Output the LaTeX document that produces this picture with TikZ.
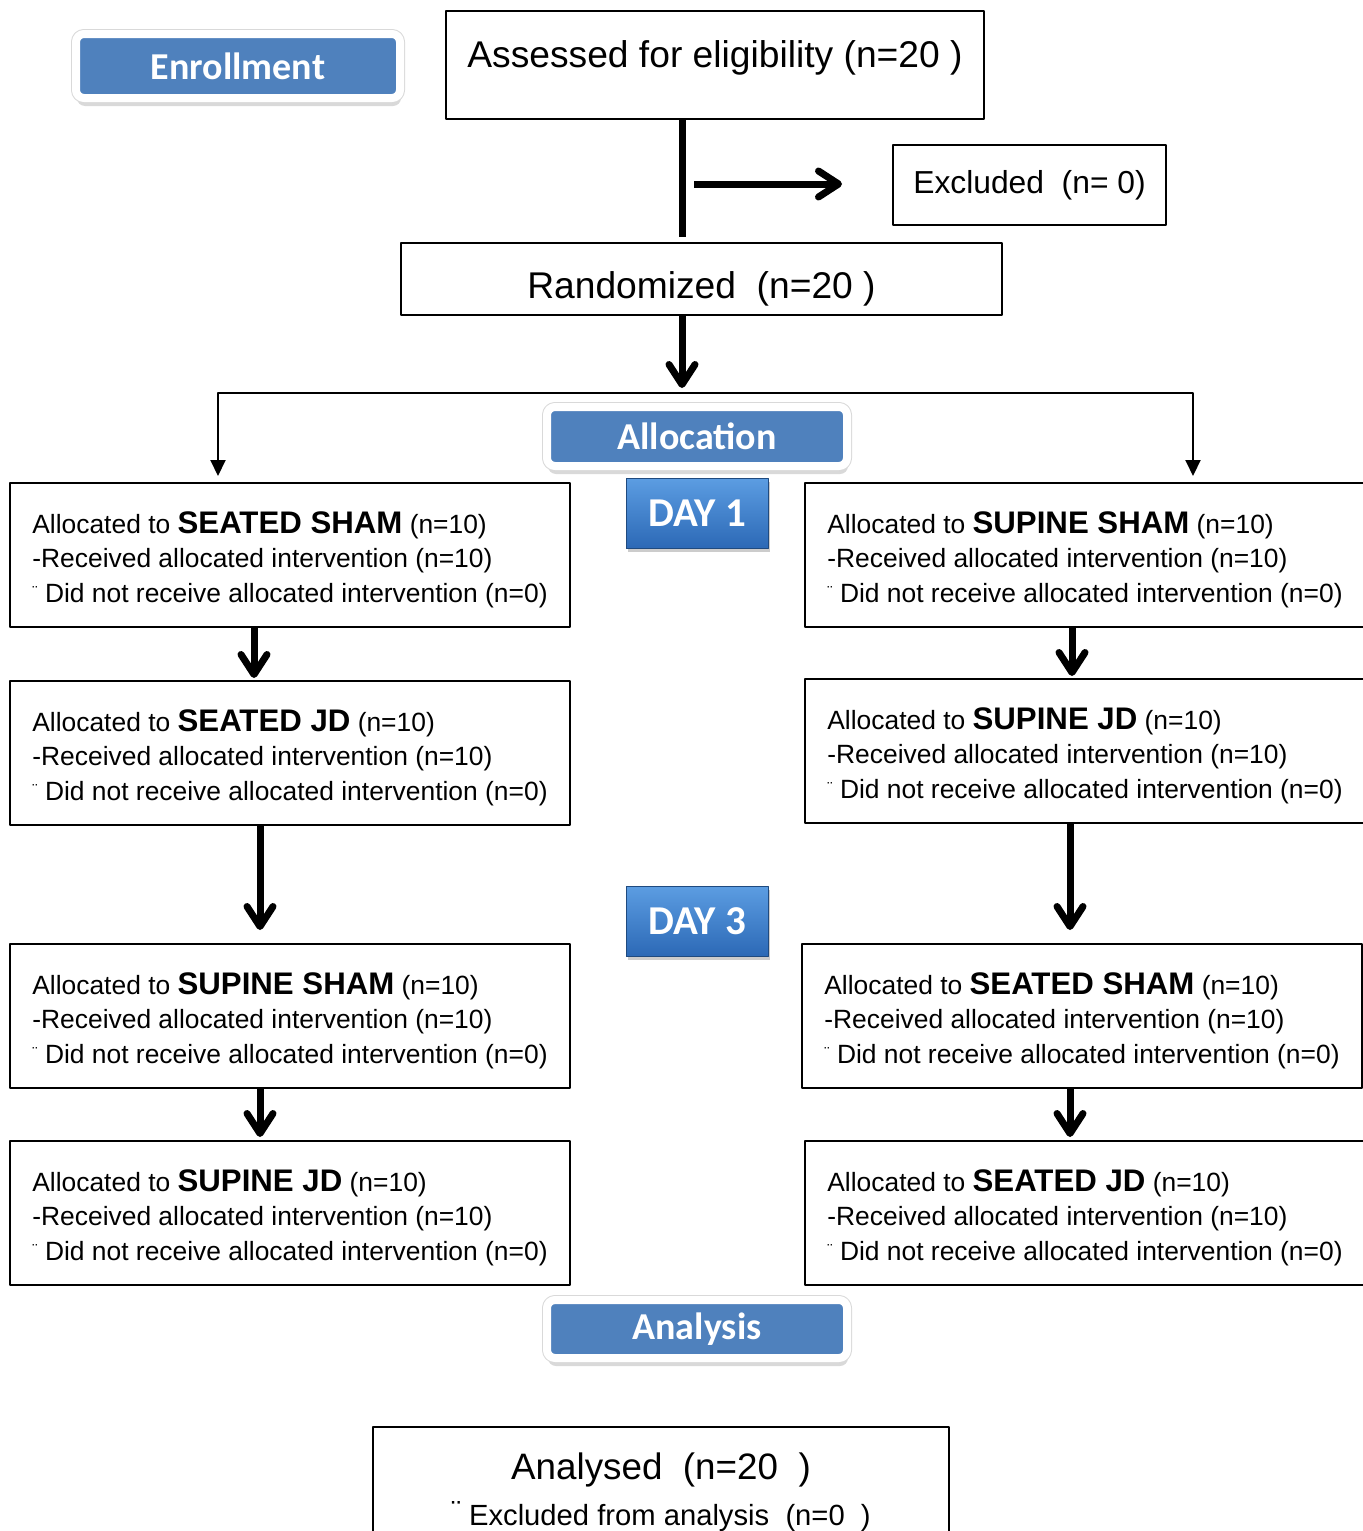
\documentclass[tikz,border=0pt]{standalone}
\usepackage{fontspec}
\setmainfont{Liberation Sans}
\newfontfamily\calibri{Carlito}
\usetikzlibrary{arrows.meta,shadows}
\definecolor{stageblue}{HTML}{4F81BD}
\definecolor{daytop}{HTML}{5C9DE2}
\definecolor{daybottom}{HTML}{2C69B6}
\newcommand{\armdots}{\raisebox{2.5pt}{\fontsize{8}{8}\selectfont ¨}}
\newcommand{\arm}[1]{Allocated to {\fontsize{15.6}{17.2}\selectfont\bfseries #1} (n=10)\\
-Received allocated intervention (n=10)\\
\armdots\ Did not receive allocated intervention (n=0)}
\begin{document}
\begin{tikzpicture}[x=0.5pt,y=-0.5pt,line join=round]
  \tikzstyle{box}=[draw,line width=1pt,minimum width=280pt,minimum height=72pt,text height=50pt,align=left,font=\fontsize{13.2}{17.2}\selectfont]
  \tikzstyle{stage}=[drop shadow={opacity=0.3,shadow xshift=0.5pt,shadow yshift=-4pt},preaction={draw=black!15,line width=5pt},draw=white,line width=4pt,fill=stageblue,rounded corners=4pt,minimum width=162pt,minimum height=32pt,text=white,font=\calibri\bfseries\fontsize{19}{19}\selectfont]
  \tikzstyle{day}=[top color=daytop,bottom color=daybottom,draw=daybottom!70!black,line width=0.5pt,minimum width=71pt,minimum height=35pt,text=white,font=\calibri\bfseries\fontsize{20.5}{20.5}\selectfont,drop shadow={opacity=0.4,shadow xshift=1pt,shadow yshift=-2pt}]
  \tikzstyle{bigarrow}=[line width=3.5pt,-{Straight Barb[length=10pt,width=13pt,round]}]
  \tikzstyle{thinarrow}=[line width=1pt,{Triangle[length=8pt,width=7.5pt]}-{Triangle[length=8pt,width=7.5pt]}]
  \useasboundingbox (0,0) rectangle (1363,1531);
  \clip (0,0) rectangle (1363,1531);

  % enrollment
  \node[stage] (enrol) at (238,66) {Enrollment};
  \node[draw,line width=1pt,minimum width=269pt,minimum height=54pt,text depth=11pt,font=\fontsize{18.6}{20}\selectfont] (assess) at (715,65) {Assessed for eligibility (n=20 )};
  \node[draw,line width=1pt,minimum width=136.5pt,minimum height=40pt,font=\fontsize{15.9}{18}\selectfont] (excl) at (1029.5,185) {Excluded\ \ (n= 0)};
  \node[draw,line width=1pt,minimum width=300.5pt,minimum height=36pt,text height=23pt,font=\fontsize{18.6}{20}\selectfont] (rand) at (701.5,279) {Randomized\ \ (n=20 )};
  \coordinate (split) at (682,184);
  \coordinate (hl) at (682,393);
  \draw[line width=3.5pt] (split |- assess.south) -- ([yshift=2.5pt]split |- rand.north);
  \draw[bigarrow,shorten >=25pt] ([xshift=6pt]split) -- (split -| excl.west);
  \draw[bigarrow] (split |- rand.south) -- ([yshift=2.5pt]hl);

  % allocation
  \node[stage,minimum width=150pt,minimum height=29.5pt] (alloc) at (697,436.5) {Allocation};
  \node[day] (day1) at (697,513) {DAY 1};
  \node[day] (day3) at (697,921) {DAY 3};

  \node[box] (L1) at (290,555)  {\arm{SEATED SHAM}};
  \node[box] (L2) at (290,753)  {\arm{SEATED JD}};
  \node[box] (L3) at (290,1016) {\arm{SUPINE SHAM}};
  \node[box] (L4) at (290,1213) {\arm{SUPINE JD}};
  \node[box] (R1) at (1085,555)  {\arm{SUPINE SHAM}};
  \node[box] (R2) at (1085,751)  {\arm{SUPINE JD}};
  \node[box] (R3) at (1082,1016) {\arm{SEATED SHAM}};
  \node[box] (R4) at (1085,1213) {\arm{SEATED JD}};

  \coordinate (bl) at (218,393);
  \coordinate (br) at (1193,393);
  \draw[thinarrow,shorten <=3pt,shorten >=3pt] (bl |- L1.north) -- (bl) -- (br) -- (br |- R1.north);

  \draw[bigarrow,shorten >=1pt] ([xshift=-18pt]L1.south) -- ([xshift=-18pt]L2.north);
  \draw[bigarrow,shorten >=6.5pt] ([xshift=-15pt]L2.south) -- ([xshift=-15pt]L3.north);
  \draw[bigarrow,shorten >=1.5pt] ([xshift=-15pt]L3.south) -- ([xshift=-15pt]L4.north);
  \draw[bigarrow,shorten >=1pt] ([xshift=-6.5pt]R1.south) -- ([xshift=-6.5pt]R2.north);
  \draw[bigarrow,shorten >=6.5pt] ([xshift=-7.5pt]R2.south) -- ([xshift=-6pt]R3.north);
  \draw[bigarrow,shorten >=1.5pt] ([xshift=-6pt]R3.south) -- ([xshift=-7.5pt]R4.north);

  % analysis
  \node[stage,minimum width=150pt,minimum height=29pt] (anal) at (697,1329) {Analysis};
  \node[draw,line width=1pt,minimum width=288pt,minimum height=65pt,align=center,font=\fontsize{18.4}{23}\selectfont] (done) at (661,1492)
    {Analysed\ \ (n=20\ \ )\\
     {\fontsize{14.6}{23}\selectfont\raisebox{2pt}{¨}\ Excluded from analysis\ \ (n=0\ \ )}};
\end{tikzpicture}
\end{document}
